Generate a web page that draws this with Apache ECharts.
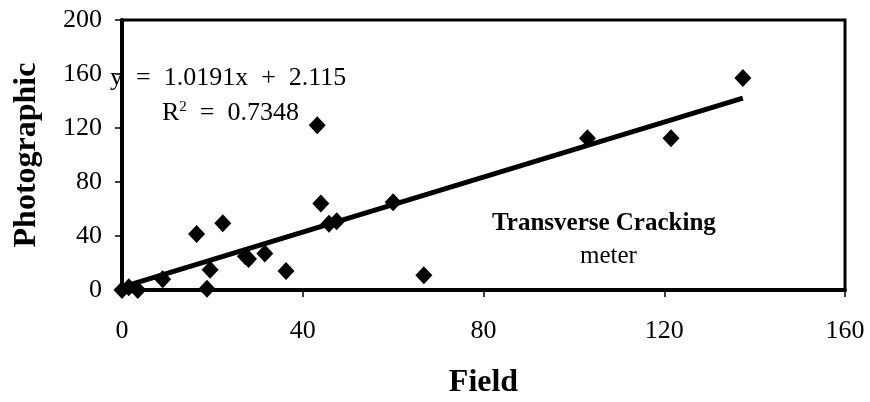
<!DOCTYPE html>
<html>
<head>
<meta charset="utf-8">
<script src="https://cdn.jsdelivr.net/npm/echarts@6/dist/echarts.min.js"></script>
<style>
html,body{margin:0;padding:0;background:#fff;}
#chart{width:870px;height:402px;}
</style>
</head>
<body>
<div id="chart"></div>
<script>
var fieldValues = [0, 1.5, 3.5, 9, 16.5, 18.8, 19.5, 22.3, 27.3, 28, 31.6, 36.3, 43.2, 44, 45.8, 47.5, 60, 66.8, 103, 121.5, 137.4];
var photoValues = [0, 2, 0, 8, 41.5, 1, 15, 49.5, 25, 23, 27, 14, 122, 64, 49, 51, 65, 11, 112.5, 112.5, 157];
var xTicks = [0, 40, 80, 120, 160];
var yTicks = [0, 40, 80, 120, 160, 200];
var trendSlope = 1.0191;
var trendIntercept = 2.115;
var rSquared = '0.7348';

var points = fieldValues.map(function(x, i){ return [x, photoValues[i]]; });
var xMinData = Math.min.apply(null, fieldValues);
var xMaxData = Math.max.apply(null, fieldValues);
var trend = [[xMinData, trendSlope*xMinData + trendIntercept], [xMaxData, trendSlope*xMaxData + trendIntercept]];

var serif = '"Liberation Serif", "Times New Roman", serif';
var sp = '\u2002';
var chart = echarts.init(document.getElementById('chart'));
chart.setOption({
  backgroundColor: '#fff',
  animation: false,
  grid: {left: 122, right: 25, top: 20, bottom: 112, show: true, borderColor: '#000', borderWidth: 3, backgroundColor: 'transparent', outerBoundsMode: 'none', containLabel: false},
  xAxis: {
    type: 'value', min: xTicks[0], max: xTicks[xTicks.length-1], interval: 40,
    name: 'Field', nameLocation: 'middle', nameGap: 77,
    nameTextStyle: {fontFamily: serif, fontWeight: 'bold', fontSize: 32, color: '#000'},
    axisLine: {show: true, lineStyle: {color: '#000', width: 4}},
    axisTick: {show: true, length: 7, lineStyle: {color: '#000', width: 1.5}},
    axisLabel: {fontFamily: serif, fontSize: 26, color: '#000', margin: 28},
    splitLine: {show: false}
  },
  yAxis: {
    type: 'value', min: yTicks[0], max: yTicks[yTicks.length-1], interval: 40,
    name: 'Photographic', nameLocation: 'middle', nameGap: 79,
    nameTextStyle: {fontFamily: serif, fontWeight: 'bold', fontSize: 32, color: '#000'},
    axisLine: {show: true, lineStyle: {color: '#000', width: 4}},
    axisTick: {show: true, length: 7, lineStyle: {color: '#000', width: 1.5}},
    axisLabel: {fontFamily: serif, fontSize: 26, color: '#000', margin: 20},
    splitLine: {show: false}
  },
  series: [
    {type: 'line', data: trend, symbol: 'none', lineStyle: {color: '#000', width: 5}, z: 2},
    {type: 'scatter', data: points, symbol: 'diamond', symbolSize: [17, 18], itemStyle: {color: '#000', opacity: 1}, z: 3}
  ],
  graphic: [
    {type: 'text', left: 110, top: 65, style: {text: 'y' + sp + '=' + sp + trendSlope + 'x' + sp + '+' + sp + trendIntercept, font: '26px ' + serif, fill: '#000'}},
    {type: 'text', left: 162, top: 100, style: {
      text: 'R{sup|2}' + sp + '=' + sp + rSquared, font: '26px ' + serif, fill: '#000',
      rich: {sup: {fontSize: 15, fontFamily: serif, verticalAlign: 'top', padding: [0,0,12,0]}}
    }},
    {type: 'text', left: 492, top: 211, style: {text: 'Transverse Cracking', font: 'bold 25px ' + serif, fill: '#000'}},
    {type: 'text', left: 580, top: 244, style: {text: 'meter', font: '25px ' + serif, fill: '#000'}}
  ]
});
</script>
</body>
</html>
